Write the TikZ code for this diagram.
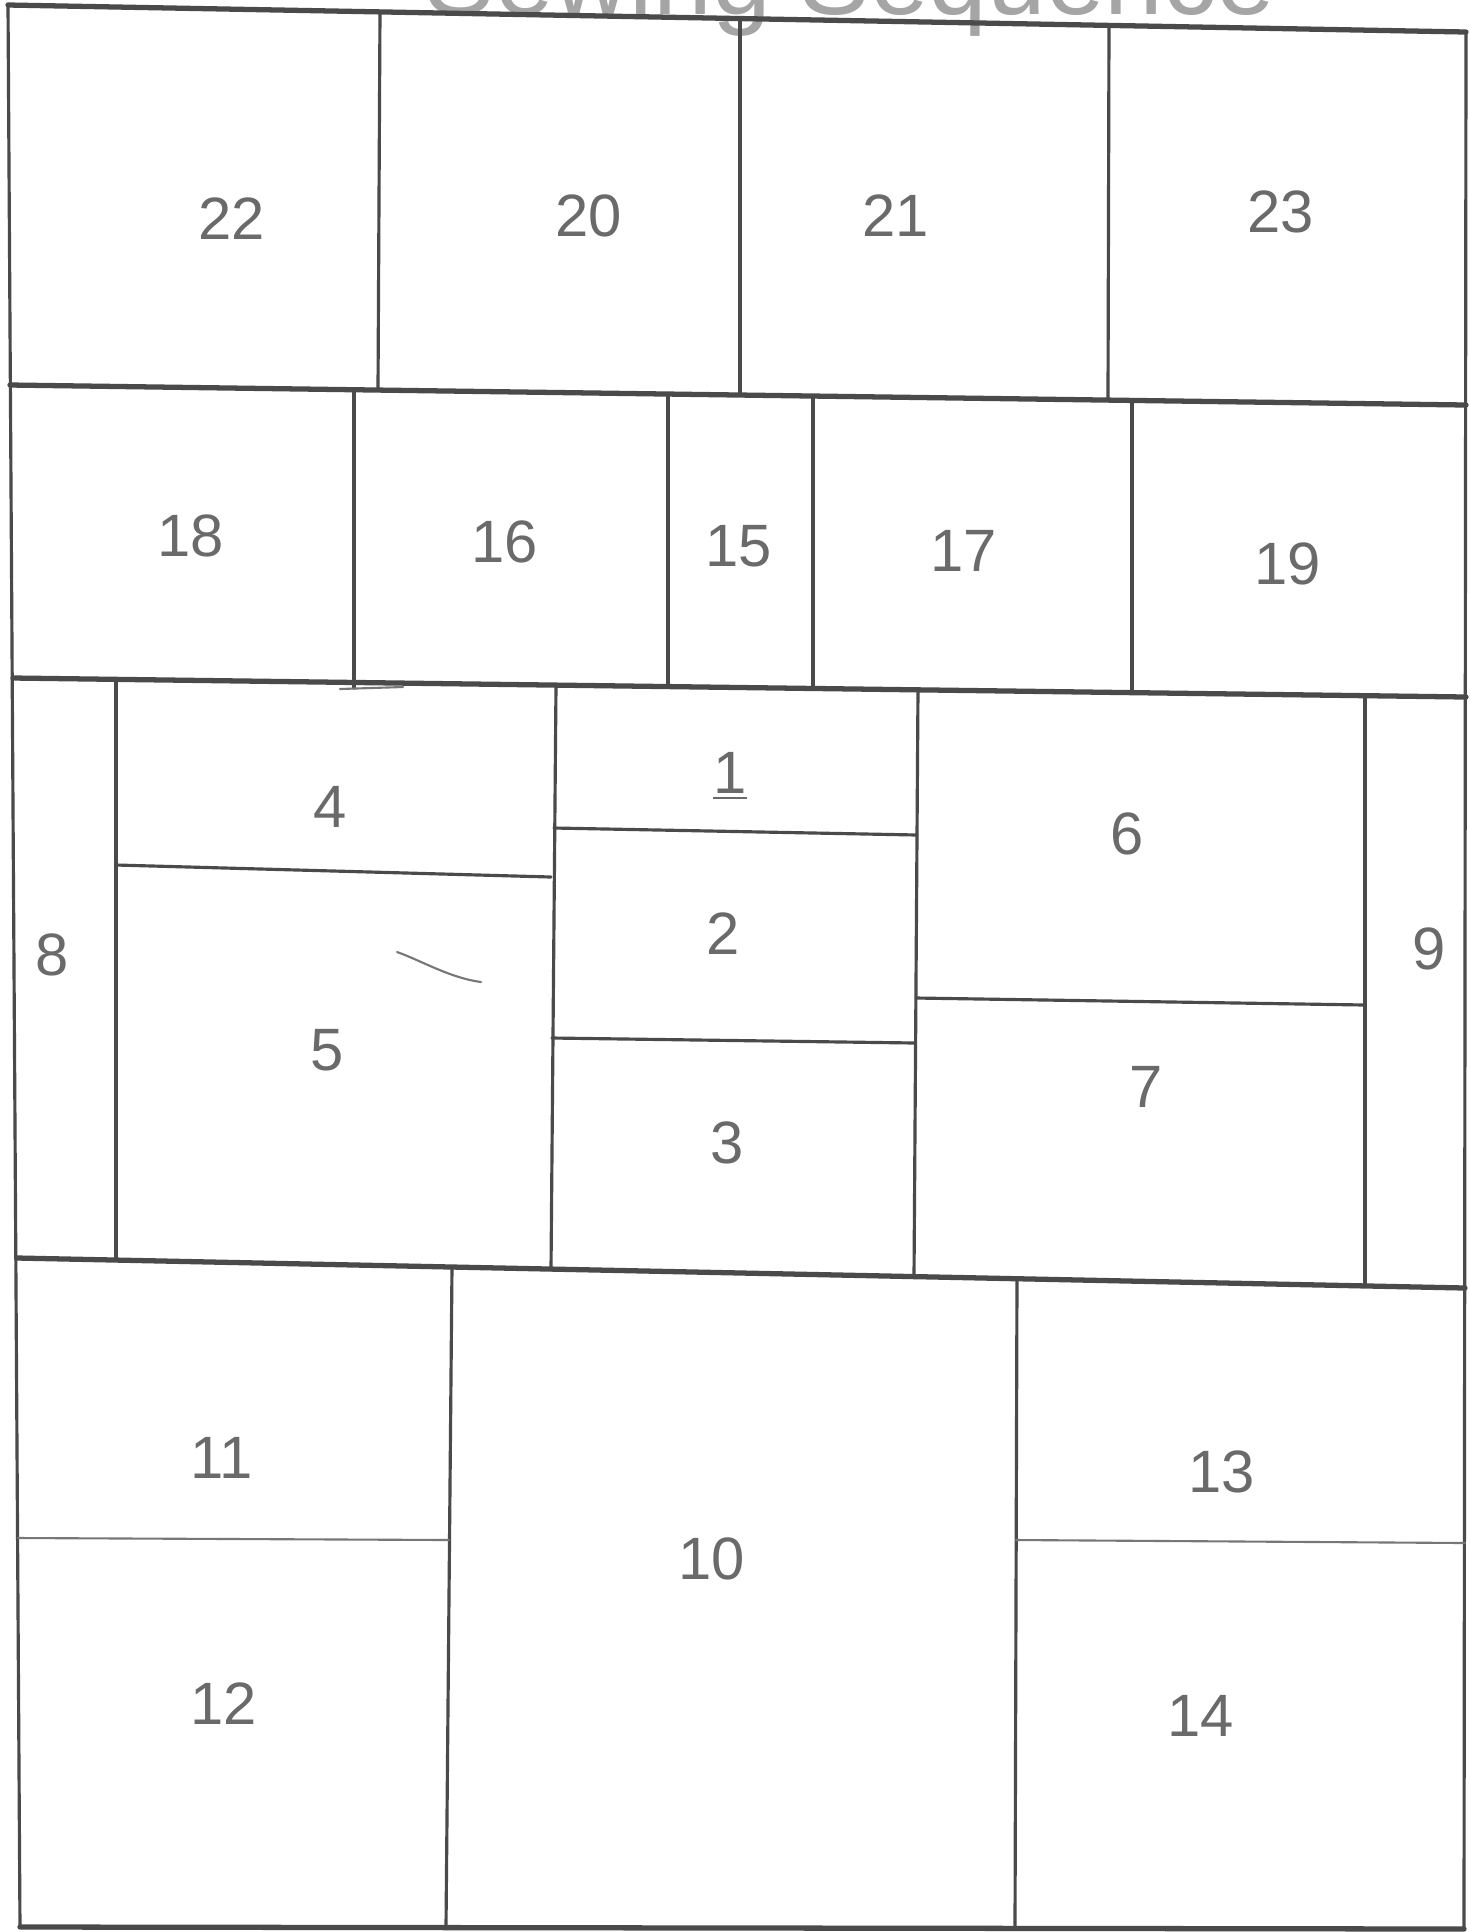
\documentclass[tikz,border=0pt]{standalone}
\usepackage{fontspec}
\setmainfont{Liberation Sans}
\usepackage{tikz}

\definecolor{pencil}{HTML}{4A4A4A}
\definecolor{lead}{HTML}{6A6A6A}

\tikzset{
  seam/.style={draw=pencil,line width=0.9pt,line cap=round},
  rowseam/.style={draw=pencil,line width=1.5pt,line cap=round},
  faint/.style={draw=pencil!75,line width=0.6pt,line cap=round},
  piece/.style={text=lead,font=\fontsize{17}{20}\selectfont},
  heading/.style={text=lead!60,font=\fontsize{30}{34}\selectfont}
}

\begin{document}
\begin{tikzpicture}[x=0.01cm,y=-0.01cm]
\fill[white] (0,0) rectangle (1470,1932);
\useasboundingbox (0,0) rectangle (1470,1932);
\begin{scope}
\clip (0,0) rectangle (1470,1932);
\node[heading,anchor=base] (title) at (850,14) {Sewing Sequence};
\end{scope}
\draw[rowseam] (8,5) -- (1466,32);
\draw[seam] (8,5) -- (20,1927);
\draw[seam] (1466,32) -- (1464,1928);
\draw[rowseam] (20,1927) -- (1464,1929);
\draw[rowseam] (10,385) -- (1466,405);
\draw[rowseam] (13,678) -- (1466,697);
\draw[rowseam] (17,1258) -- (1465,1288);
\draw[seam] (380,12) -- (378,390);
\draw[seam] (740,19) -- (740,395);
\draw[seam] (1109,26) -- (1108,400);
\draw[seam] (354,390) -- (354,688);
\draw[seam] (668,394) -- (668,687);
\draw[seam] (813,396) -- (813,689);
\draw[seam] (1132,401) -- (1132,693);
\draw[faint] (340,689) -- (403,687);
\draw[seam] (116,680) -- (116,1259);
\draw[seam] (556,686) -- (551,1270);
\draw[seam] (918,690) -- (914,1278);
\draw[seam] (1365,696) -- (1365,1286);
\draw[seam] (116,865) -- (551,877);
\draw[seam] (554,828) -- (917,835);
\draw[seam] (552,1038) -- (915,1043);
\draw[seam] (916,998) -- (1365,1005);
\draw[faint] (397,952) .. controls (420,960) and (450,978) .. (481,982);
\draw[seam] (452,1267) -- (446,1928);
\draw[seam] (1017,1279) -- (1015,1928);
\draw[faint] (18,1538) -- (449,1540);
\draw[faint] (1016,1540) -- (1465,1543);
\node[piece] (p22) at (232,219) {22};
\node[piece] (p20) at (589,216) {20};
\node[piece] (p21) at (896,216) {21};
\node[piece] (p23) at (1281,212) {23};
\node[piece] (p18) at (191,536) {18};
\node[piece] (p16) at (505,542) {16};
\node[piece] (p15) at (739,546) {15};
\node[piece] (p17) at (964,551) {17};
\node[piece] (p19) at (1288,564) {19};
\node[piece] (p4) at (330,807) {4};
\node[piece] (p1) at (730,776) {\underline{1}};
\node[piece] (p6) at (1127,834) {6};
\node[piece] (p8) at (52,955) {8};
\node[piece] (p2) at (723,934) {2};
\node[piece] (p9) at (1429,949) {9};
\node[piece] (p5) at (327,1050) {5};
\node[piece] (p3) at (727,1143) {3};
\node[piece] (p7) at (1146,1087) {7};
\node[piece] (p11) at (222,1458) {11};
\node[piece] (p13) at (1222,1472) {13};
\node[piece] (p10) at (712,1559) {10};
\node[piece] (p12) at (224,1704) {12};
\node[piece] (p14) at (1201,1716) {14};
\end{tikzpicture}
\end{document}
